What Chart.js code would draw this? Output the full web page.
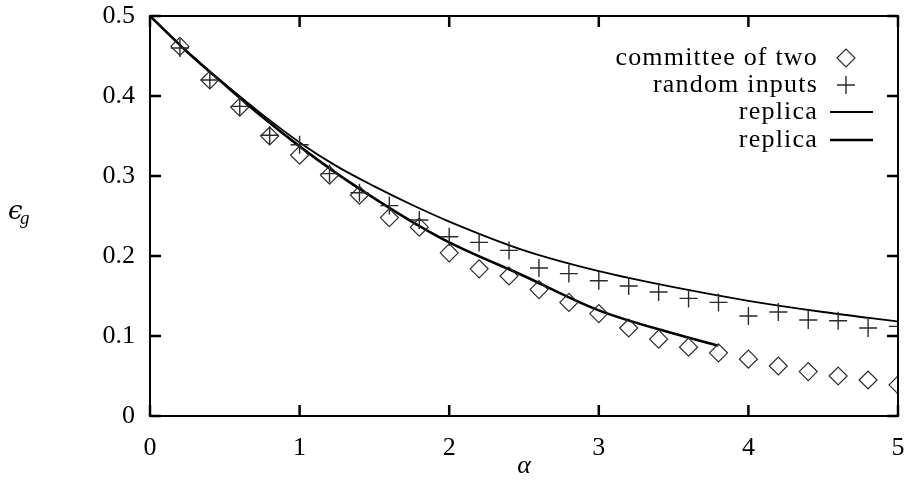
<!DOCTYPE html>
<html>
<head>
<meta charset="utf-8">
<script src="https://cdn.jsdelivr.net/npm/chart.js@4"></script>
<style>
  body { margin: 0; background: #fff; }
  canvas { display: block; }
</style>
</head>
<body>
<canvas id="chart" width="904" height="483"></canvas>
<script>
// simulation points
const alpha = [0.2, 0.4, 0.6, 0.8, 1.0, 1.2, 1.4, 1.6, 1.8, 2.0, 2.2, 2.4, 2.6,
  2.8, 3.0, 3.2, 3.4, 3.6, 3.8, 4.0, 4.2, 4.4, 4.6, 4.8, 5.0];
const committee = [0.462, 0.420, 0.386, 0.350, 0.326, 0.301, 0.276, 0.248, 0.236,
  0.204, 0.184, 0.175, 0.158, 0.142, 0.128, 0.110, 0.096, 0.086, 0.079,
  0.071, 0.0625, 0.0555, 0.050, 0.045, 0.039];
const randomInputs = [0.460, 0.420, 0.387, 0.351, 0.339, 0.303, 0.279, 0.263, 0.245,
  0.224, 0.217, 0.207, 0.185, 0.178, 0.169, 0.1625, 0.155, 0.147, 0.142,
  0.125, 0.130, 0.120, 0.119, 0.110, 0.112];

// replica curves
const replicaAlphaA = [0, 0.25, 0.5, 0.75, 1.0, 1.25, 1.5, 1.75, 2.0, 2.5, 3.0, 3.5, 4.0, 4.5, 5.0];
const replicaA = [0.5, 0.455, 0.415, 0.377, 0.342, 0.312, 0.287, 0.264, 0.243, 0.207, 0.181, 0.161, 0.144, 0.130, 0.118];
const replicaAlphaB = [0, 0.25, 0.5, 0.75, 1.0, 1.25, 1.5, 1.75, 2.0, 2.5, 3.0, 3.5, 3.8];
const replicaB = [0.5, 0.455, 0.414, 0.374, 0.337, 0.303, 0.272, 0.243, 0.217, 0.175, 0.132, 0.103, 0.088];

const xTicks = [0, 1, 2, 3, 4, 5];
const yTicks = [0, 0.1, 0.2, 0.3, 0.4, 0.5];

const FONT = '"Liberation Serif", "Times New Roman", serif';

function pts(xs, ys) {
  return xs.map((x, i) => ({ x: x, y: ys[i] }));
}

// frame, inward ticks, legend and axis titles, gnuplot style
const gnuplotLook = {
  id: 'gnuplotLook',
  afterDraw(chart) {
    const ctx = chart.ctx;
    const a = chart.chartArea;
    const xs = chart.scales.x;
    const ys = chart.scales.y;
    ctx.save();
    ctx.strokeStyle = '#000';
    ctx.lineWidth = 2.5;
    ctx.beginPath();
    xTicks.forEach(v => {
      const px = xs.getPixelForValue(v);
      ctx.moveTo(px, a.bottom); ctx.lineTo(px, a.bottom - 11);
      ctx.moveTo(px, a.top); ctx.lineTo(px, a.top + 11);
    });
    yTicks.forEach(v => {
      const py = ys.getPixelForValue(v);
      ctx.moveTo(a.left, py); ctx.lineTo(a.left + 11, py);
      ctx.moveTo(a.right, py); ctx.lineTo(a.right - 11, py);
    });
    ctx.stroke();
    ctx.lineWidth = 2;
    ctx.strokeRect(a.left, a.top, a.right - a.left, a.bottom - a.top);

    // legend
    const rows = [58, 85, 112, 140];
    ctx.textAlign = 'right';
    ctx.textBaseline = 'middle';
    chart.data.datasets.forEach((ds, i) => {
      const y = rows[i];
      ctx.font = '26px ' + FONT;
      ctx.letterSpacing = '1.2px';
      ctx.fillStyle = '#000';
      ctx.fillText(ds.label, 818, y);
      ctx.letterSpacing = '0px';
      ctx.strokeStyle = ds.borderColor;
      ctx.lineWidth = ds.borderWidth;
      if (ds.pointRadius > 0) {
        ctx.fillStyle = 'rgba(0,0,0,0)';
        Chart.helpers.drawPoint(ctx, {
          pointStyle: ds.pointStyle, radius: ds.pointRadius, rotation: 0,
          borderWidth: ds.borderWidth
        }, 846, y);
      } else {
        ctx.beginPath();
        ctx.moveTo(830, y); ctx.lineTo(873, y);
        ctx.stroke();
      }
    });

    // axis titles
    ctx.fillStyle = '#000';
    ctx.textAlign = 'center';
    ctx.textBaseline = 'alphabetic';
    ctx.font = 'italic 26px ' + FONT;
    ctx.fillText('α', (a.left + a.right) / 2, 473);
    ctx.textAlign = 'left';
    ctx.font = 'italic 26px "DejaVu Serif", serif';
    ctx.fillText('ϵ', 8, 219);
    ctx.font = 'italic 19px ' + FONT;
    ctx.fillText('g', 20, 224);
    ctx.restore();
  }
};

new Chart(document.getElementById('chart'), {
  type: 'scatter',
  data: {
    datasets: [
      {
        label: 'committee of two',
        data: pts(alpha, committee),
        pointStyle: 'rectRot',
        pointRadius: 9,
        borderColor: '#2a2a2a',
        backgroundColor: 'rgba(0,0,0,0)',
        borderWidth: 1.2,
        showLine: false
      },
      {
        label: 'random inputs',
        data: pts(alpha, randomInputs),
        pointStyle: 'cross',
        pointRadius: 9,
        borderColor: '#2a2a2a',
        backgroundColor: 'rgba(0,0,0,0)',
        borderWidth: 1.4,
        showLine: false
      },
      {
        label: 'replica',
        data: pts(replicaAlphaA, replicaA),
        showLine: true,
        pointRadius: 0,
        borderColor: '#000',
        borderWidth: 1.8,
        cubicInterpolationMode: 'monotone',
        fill: false
      },
      {
        label: 'replica',
        data: pts(replicaAlphaB, replicaB),
        showLine: true,
        pointRadius: 0,
        borderColor: '#000',
        borderWidth: 2.6,
        cubicInterpolationMode: 'monotone',
        fill: false
      }
    ]
  },
  options: {
    responsive: false,
    animation: false,
    layout: { autoPadding: false, padding: { top: 16, right: 6, left: 0, bottom: 0 } },
    plugins: { legend: { display: false }, tooltip: { enabled: false } },
    scales: {
      x: {
        type: 'linear',
        min: 0,
        max: 5,
        afterFit: s => { s.height = 67; s.paddingLeft = 0; s.paddingRight = 0; },
        afterBuildTicks: s => { s.ticks = xTicks.map(v => ({ value: v })); },
        grid: { display: false, drawTicks: false },
        border: { display: false },
        ticks: {
          padding: 17,
          color: '#000',
          font: { family: FONT, size: 26 },
          maxRotation: 0
        }
      },
      y: {
        type: 'linear',
        min: 0,
        max: 0.5,
        afterFit: s => { s.width = 150; s.paddingTop = 0; s.paddingBottom = 0; },
        afterBuildTicks: s => { s.ticks = yTicks.map(v => ({ value: v })); },
        grid: { display: false, drawTicks: false },
        border: { display: false },
        ticks: {
          padding: 15,
          color: '#000',
          font: { family: FONT, size: 26 },
          callback: v => (v === 0 ? '0' : v.toFixed(1))
        }
      }
    }
  },
  plugins: [gnuplotLook]
});
</script>
</body>
</html>
